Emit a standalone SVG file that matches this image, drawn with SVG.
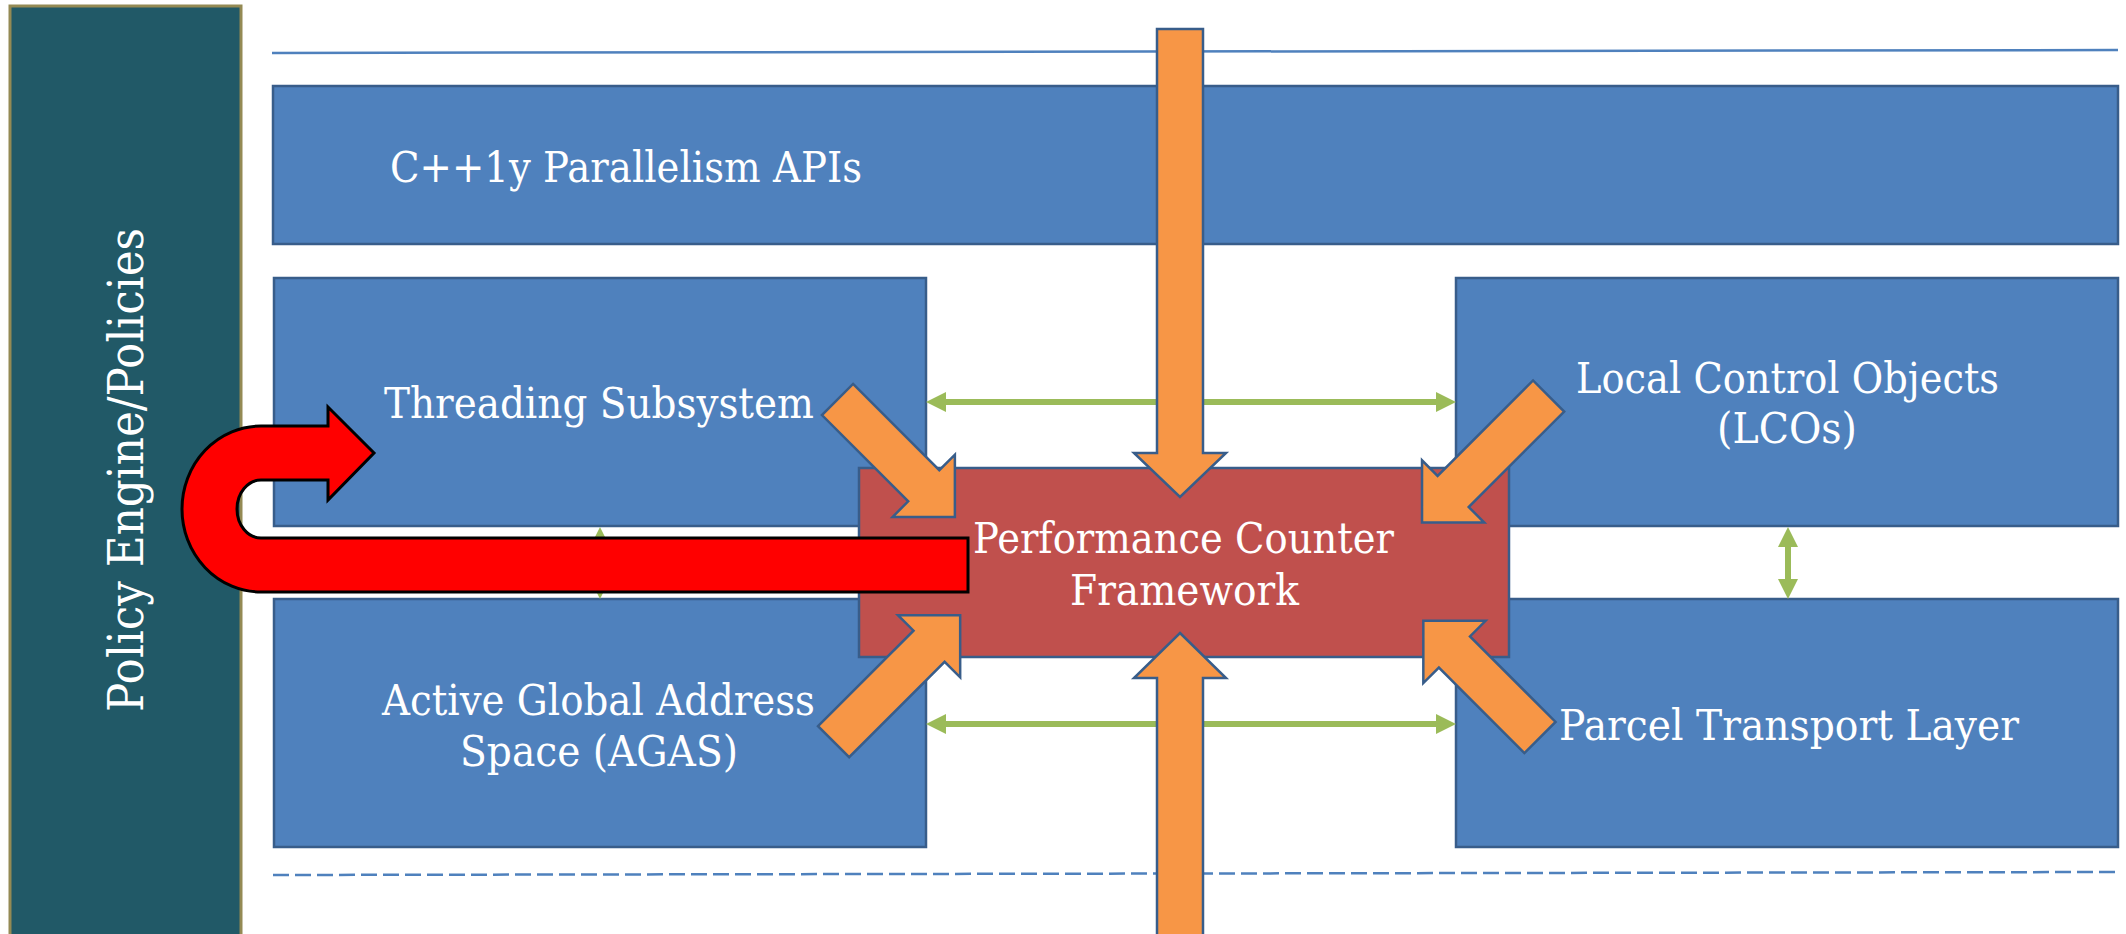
<svg xmlns="http://www.w3.org/2000/svg" width="2126" height="934" viewBox="0 0 2126 934">
<style>
.box{fill:#4f81bd;stroke:#385d8a;stroke-width:2.5}
.pcf{fill:#c0504d;stroke:#385d8a;stroke-width:2.5}
.orange{fill:#f79646;stroke:#385d8a;stroke-width:2.5;stroke-linejoin:miter}
.green{stroke:#9bbb59;stroke-width:6;fill:none}
.lbl{font-family:"DejaVu Serif","Liberation Serif",serif;font-size:42px;fill:#ffffff}
.pol{font-family:"DejaVu Serif","Liberation Serif",serif;font-size:48px;fill:#ffffff}
</style>
<defs>
<marker id="gh" viewBox="0 0 20 20" markerWidth="20" markerHeight="20" refX="0" refY="10" orient="auto-start-reverse" markerUnits="userSpaceOnUse">
<path d="M0,0 L20,10 L0,20 Z" fill="#9bbb59"/>
</marker>
</defs>
<rect width="2126" height="934" fill="#ffffff"/>

<g id="policy-panel">
<rect x="10" y="6" width="231" height="940" fill="#215967" stroke="#948a54" stroke-width="3"/>
<text class="pol" transform="translate(143,712) rotate(-90)" x="0" y="0" textLength="484" lengthAdjust="spacingAndGlyphs">Policy Engine/Policies</text>
</g>

<g id="guides">
<line x1="272" y1="53" x2="2118" y2="50" stroke="#4f81bd" stroke-width="2.5"/>
<line x1="273" y1="875" x2="2118" y2="872" stroke="#4f81bd" stroke-width="2.5" stroke-dasharray="16 6"/>
</g>

<g id="cpp-apis">
<rect class="box" x="273" y="86" width="1845" height="158"/>
<text class="lbl" x="390" y="182" textLength="472" lengthAdjust="spacingAndGlyphs">C++1y Parallelism APIs</text>
</g>

<g id="threading">
<rect class="box" x="274" y="278" width="652" height="248"/>
<text class="lbl" x="384" y="418" textLength="430" lengthAdjust="spacingAndGlyphs">Threading Subsystem</text>
</g>

<g id="agas">
<rect class="box" x="274" y="599" width="652" height="248"/>
<text class="lbl" x="382" y="715" textLength="433" lengthAdjust="spacingAndGlyphs">Active Global Address</text>
<text class="lbl" x="460" y="766" textLength="278" lengthAdjust="spacingAndGlyphs">Space (AGAS)</text>
</g>

<g id="lco">
<rect class="box" x="1456" y="278" width="662" height="248"/>
<text class="lbl" x="1576" y="393" textLength="423" lengthAdjust="spacingAndGlyphs">Local Control Objects</text>
<text class="lbl" x="1717" y="443" textLength="140" lengthAdjust="spacingAndGlyphs">(LCOs)</text>
</g>

<g id="parcel">
<rect class="box" x="1456" y="599" width="662" height="248"/>
<text class="lbl" x="1559" y="740" textLength="460" lengthAdjust="spacingAndGlyphs">Parcel Transport Layer</text>
</g>

<g id="perf-counter">
<rect class="pcf" x="859" y="468" width="650" height="189"/>
<text class="lbl" x="973" y="553" textLength="421" lengthAdjust="spacingAndGlyphs">Performance Counter</text>
<text class="lbl" x="1070" y="605" textLength="229" lengthAdjust="spacingAndGlyphs">Framework</text>
</g>

<g id="connectors">
<line class="green" x1="946" y1="402" x2="1436" y2="402" marker-start="url(#gh)" marker-end="url(#gh)"/>
<line class="green" x1="946" y1="724" x2="1436" y2="724" marker-start="url(#gh)" marker-end="url(#gh)"/>
<line class="green" x1="1788" y1="547" x2="1788" y2="579" stroke-width="5" marker-start="url(#gh)" marker-end="url(#gh)"/>
<line class="green" x1="600" y1="547" x2="600" y2="579" stroke-width="5" marker-start="url(#gh)" marker-end="url(#gh)"/>

<polygon class="orange" points="1157,29 1203,29 1203,453 1226,453 1180,497 1134,453 1157,453"/>
<polygon class="orange" points="1180,633 1226,678 1203,678 1203,940 1157,940 1157,678 1134,678"/>

<polygon class="orange" transform="translate(837.5,399.5) rotate(45)" points="0,-22 122,-22 122,-44 166,0 122,44 122,22 0,22"/>
<polygon class="orange" transform="translate(1548.6,396) rotate(135)" points="0,-22 135,-22 135,-44 179,0 135,44 135,22 0,22"/>
<polygon class="orange" transform="translate(1540,737.5) rotate(-135)" points="0,-22 121,-22 121,-44 165,0 121,44 121,22 0,22"/>
<polygon class="orange" transform="translate(833.6,741.7) rotate(-45)" points="0,-22 135,-22 135,-44 179,0 135,44 135,22 0,22"/>

<path d="M968,538 L261,538 A24,29 0 0 1 261,480 L328,480 L328,500 L374,453 L328,407 L328,426 L261,426 A79,83 0 0 0 261,592 L968,592 Z" fill="#ff0000" stroke="#000000" stroke-width="3" stroke-linejoin="miter"/>
</g>
</svg>
